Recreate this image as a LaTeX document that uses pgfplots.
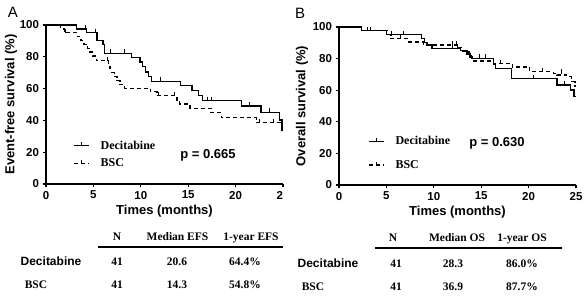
\documentclass[border=0pt]{standalone}
\usepackage{fontspec}
\setmainfont{Liberation Serif}
\setsansfont{Liberation Sans}
\usepackage{pgfplots}
\pgfplotsset{compat=1.18}
\pgfplotsset{
  km/.style={
    scale only axis, width=237pt, height=159pt,
    xmin=0, xmax=25, ymin=0, ymax=100,
    axis lines=left, axis line style={-, line width=1.3pt},
    xtick={0,5,...,25}, ytick={0,20,...,100},
    tick align=outside, major tick length=3.5pt,
    tick style={line width=1.3pt, black},
    ticklabel style={font=\sffamily\bfseries\fontsize{11.5}{12}\selectfont},
    /pgf/number format/assume math mode=true,
    label style={font=\sffamily\bfseries\fontsize{13}{14}\selectfont},
    xlabel={Times (months)},
    xlabel style={yshift=1pt},
    clip=false,
    legend cell align=left,
    legend image code/.code={
      \draw[##1, line width=1.4pt] (0pt,0pt) -- (15pt,0pt);
      \draw[solid, line width=0.9pt] (7.5pt,0pt) -- (7.5pt,3.5pt);
    },
  },
  cur/.style={const plot, black, line width=1.4pt},
  bsc/.style={const plot, black, line width=1.4pt, dash pattern=on 4pt off 3pt},
  cens/.style={only marks, mark=|, mark size=2.2pt, black, mark options={line width=0.9pt, yshift=1.6pt, solid}, forget plot},
}
\begin{document}
\begin{tikzpicture}[x=1pt,y=1pt]
\path[use as bounding box] (0,0) rectangle (588,304);
% ---------------- Panel A ----------------
\begin{axis}[km, at={(46pt,120pt)}, anchor=south west,
  xticklabels={0,5,10,15,20,2\phantom{5}},
  ylabel={Event-free survival (\%)},
  ylabel style={at={(axis description cs:-0.148,0.5)}, anchor=center},
  legend style={draw=none, fill=none, at={(axis description cs:0.114,0.285)}, anchor=north west,
    font=\rmfamily\bfseries\fontsize{12}{13}\selectfont, row sep=4pt, inner sep=0pt,
    /tikz/every odd column/.append style={column sep=9pt}}]
\addplot[cur] coordinates {(0,100) (3.2,97.6) (4.3,95.1) (5.4,90.2) (6.0,87.8) (6.2,82.2) (9.0,79.5) (9.9,76.7) (10.2,73.9) (10.5,70.5) (10.8,67.5) (11.1,64.6) (14.2,61.8) (15.4,58.7) (16.1,55.8) (16.5,52.4) (20.6,49.0) (22.7,45.1) (24.6,40.3) (24.9,33.5) (25,33.5)};
\addlegendentry{Decitabine}
\addplot[bsc] coordinates {(0,100) (1.55,97.6) (1.95,95.1) (3.3,92.7) (3.7,90.2) (4.0,87.8) (4.4,85.4) (4.6,82.9) (4.9,80.5) (5.3,77.5) (6.6,75.0) (6.75,72.5) (6.9,70.0) (7.2,67.5) (7.5,65.0) (7.8,62.5) (8.3,60.2) (11.0,58.0) (11.7,55.6) (13.8,52.8) (14.1,50.3) (15.2,47.6) (17.4,44.8) (18.5,41.7) (22.2,38.6) (24.9,35.0) (25,35.0)};
\addlegendentry{BSC}
\addplot[cens] coordinates {(4.2,97.6) (5.2,95.1) (6.75,82.2) (8.3,82.2) (12.1,64.6) (17.0,52.4) (17.5,52.4) (21.5,49.0) (23.6,45.1)};
\addplot[cens] coordinates {(2.0,95.1) (6.5,77.5) (11.9,55.6) (13.5,55.6) (22.5,38.6) (24.0,38.6)};
\end{axis}
% ---------------- Panel B ----------------
\begin{axis}[km, at={(339pt,119pt)}, anchor=south west, height=158pt,
  ylabel={Overall survival (\%)},
  ylabel style={at={(axis description cs:-0.156,0.5)}, anchor=center},
  legend style={draw=none, fill=none, at={(axis description cs:0.122,0.32)}, anchor=north west,
    font=\rmfamily\bfseries\fontsize{12}{13}\selectfont, row sep=10pt, inner sep=0pt,
    /tikz/every odd column/.append style={column sep=9pt}}]
\addplot[cur] coordinates {(0,100) (2.4,97.6) (5.0,95.2) (8.7,92.7) (9.0,90.3) (9.3,88.5) (9.8,86.5) (12.8,85.0) (13.5,83.0) (13.8,81.0) (14.1,80.2) (16.3,76.5) (16.5,73.8) (18.2,67.5) (23.0,63.3) (24.4,60.1) (24.8,56.0) (25,56.0)};
\addlegendentry{Decitabine}
\addplot[bsc] coordinates {(0,100) (2.4,97.6) (5.2,95.1) (5.5,92.7) (7.4,90.4) (8.9,88.6) (12.6,86.9) (13.1,84.8) (13.7,82.5) (14.0,78.5) (16.3,77.0) (18.3,74.8) (20.1,71.7) (22.6,70.7) (23.0,69.6) (24.0,68.5) (24.5,65.4) (24.9,62.2) (25,62.2)};
\addlegendentry{BSC}
\addplot[cens] coordinates {(3.0,97.6) (5.5,95.2) (6.8,95.2) (12.0,86.5) (12.5,86.5) (14.8,80.2) (15.5,80.2) (20.5,67.5) (23.8,63.3)};
\addplot[cens] coordinates {(3.3,97.6) (6.5,92.7) (12.0,88.6) (12.4,88.6) (17.0,77.0) (21.5,71.7) (23.5,70.7)};
\end{axis}
% ---------------- labels ----------------
\node[font=\sffamily\fontsize{15}{16}\selectfont] at (13,292) {A};
\node[font=\sffamily\fontsize{15}{16}\selectfont] at (300,291) {B};
\node[font=\sffamily\bfseries\fontsize{13}{14}\selectfont] at (208,149) {p = 0.665};
\node[font=\sffamily\bfseries\fontsize{13}{14}\selectfont] at (497,161) {p = 0.630};
% ---------------- tables ----------------
\begin{scope}[every node/.style={anchor=base, font=\rmfamily\bfseries\fontsize{11.5}{12}\selectfont, inner sep=0pt}]
\node at (117,63) {N};
\node at (177.5,63) {Median EFS};
\node at (251,63) {1-year EFS};
\draw[line width=2pt] (98,57) -- (283,57);
\node[font=\sffamily\bfseries\fontsize{12}{13}\selectfont] at (51,38.5) {Decitabine};
\node at (117,38.5) {41};
\node at (177,38.5) {20.6};
\node at (245,38.5) {64.4\%};
\node at (36,15) {BSC};
\node at (117,15) {41};
\node at (177,15) {14.3};
\node at (245,15) {54.8\%};
\node at (393,62) {N};
\node at (457,62) {Median OS};
\node at (522,62) {1-year OS};
\draw[line width=2pt] (375,56) -- (562,56);
\node[font=\sffamily\bfseries\fontsize{12}{13}\selectfont] at (328,36) {Decitabine};
\node at (396,36) {41};
\node at (453,36) {28.3};
\node at (522,36) {86.0\%};
\node at (313,13) {BSC};
\node at (396,13) {41};
\node at (453,13) {36.9};
\node at (522,13) {87.7\%};
\end{scope}
\end{tikzpicture}
\end{document}
